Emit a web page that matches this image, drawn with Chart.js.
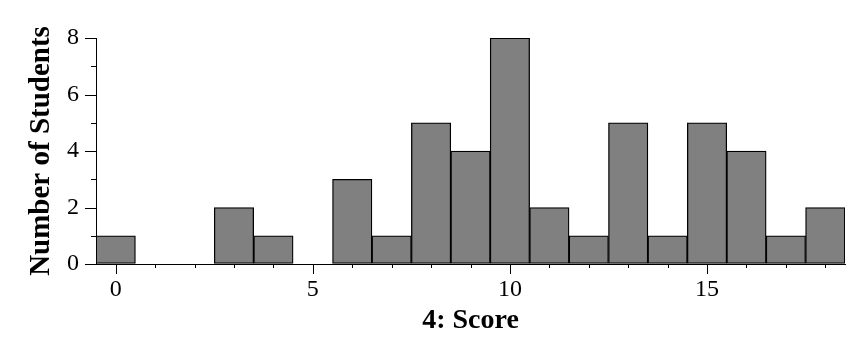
<!DOCTYPE html>
<html>
<head>
<meta charset="utf-8">
<script src="https://cdn.jsdelivr.net/npm/chart.js@4.4.1/dist/chart.umd.min.js"></script>
<style>
  html, body { margin: 0; padding: 0; background: #ffffff; }
  #wrap { width: 860px; height: 353px; position: relative; }
</style>
</head>
<body>
<div id="wrap"><canvas id="c" width="860" height="353"></canvas></div>
<script>
// Histogram bins (score values, bin width 1)
const scores = [0, 1, 2, 3, 4, 5, 6, 7, 8, 9, 10, 11, 12, 13, 14, 15, 16, 17, 18];
// Number of students in each bin
const counts = [1, 0, 0, 2, 1, 0, 3, 1, 5, 4, 8, 2, 1, 5, 1, 5, 4, 1, 2];
// Labelled x ticks and y ticks
const xMajorTicks = [0, 5, 10, 15];
const yMajorTicks = [0, 2, 4, 6, 8];
const yMinorTicks = [1, 3, 5, 7];

const xTitle = '4: Score';
const yTitle = 'Number of Students';

const FONT = "'Liberation Serif', 'Times New Roman', Times, serif";

const tickPlugin = {
  id: 'customTicks',
  afterDraw(chart) {
    const ctx = chart.ctx;
    const xs = chart.scales.x, ys = chart.scales.y;
    const area = chart.chartArea;
    ctx.save();
    ctx.strokeStyle = '#000';
    ctx.lineWidth = 1;
    ctx.beginPath();
    scores.forEach((s, i) => {
      const px = Math.round(xs.getPixelForValue(i)) + 0.5;
      const len = xMajorTicks.includes(s) ? 10 : 4;
      ctx.moveTo(px, area.bottom);
      ctx.lineTo(px, area.bottom + len);
    });
    yMajorTicks.forEach(v => {
      const py = Math.round(ys.getPixelForValue(v)) + 0.5;
      ctx.moveTo(area.left, py);
      ctx.lineTo(area.left - 11, py);
    });
    yMinorTicks.forEach(v => {
      const py = Math.round(ys.getPixelForValue(v)) + 0.5;
      ctx.moveTo(area.left, py);
      ctx.lineTo(area.left - 5, py);
    });
    ctx.stroke();
    ctx.restore();
  }
};

new Chart(document.getElementById('c'), {
  type: 'bar',
  data: {
    labels: scores.map(String),
    datasets: [{
      data: counts,
      backgroundColor: '#808080',
      borderColor: '#000000',
      borderWidth: 1.3,
      borderSkipped: false,
      categoryPercentage: 1.0,
      barPercentage: 1.0
    }]
  },
  options: {
    responsive: false,
    animation: false,
    devicePixelRatio: 1,
    layout: { padding: { left: 0, right: 15, top: 38, bottom: 0 } },
    plugins: {
      legend: { display: false },
      tooltip: { enabled: false }
    },
    scales: {
      x: {
        type: 'category',
        offset: true,
        grid: { display: true, drawOnChartArea: false, color: 'transparent', tickLength: 10 },
        border: { display: true, color: '#000', width: 1 },
        ticks: {
          autoSkip: false,
          maxRotation: 0,
          color: '#000',
          padding: 1,
          font: { family: FONT, size: 24 },
          callback: function(val, idx) {
            const s = scores[idx];
            return xMajorTicks.includes(s) ? String(s) : '';
          }
        },
        title: {
          display: true,
          text: xTitle,
          color: '#000',
          font: { family: FONT, size: 28, weight: 'bold' },
          padding: { top: 0, bottom: 15 }
        },
        afterFit(scale) { scale.height = 89; }
      },
      y: {
        min: 0,
        max: 8,
        grid: { display: true, drawOnChartArea: false, color: 'transparent', tickLength: 10 },
        border: { display: true, color: '#000', width: 1 },
        ticks: {
          stepSize: 2,
          color: '#000',
          padding: 7,
          font: { family: FONT, size: 24 }
        },
        title: {
          display: true,
          text: yTitle,
          color: '#000',
          font: { family: FONT, size: 29, weight: 'bold' },
          padding: { top: 24, bottom: 0 }
        },
        afterFit(scale) { scale.width = 96; }
      }
    }
  },
  plugins: [tickPlugin]
});
</script>
</body>
</html>
